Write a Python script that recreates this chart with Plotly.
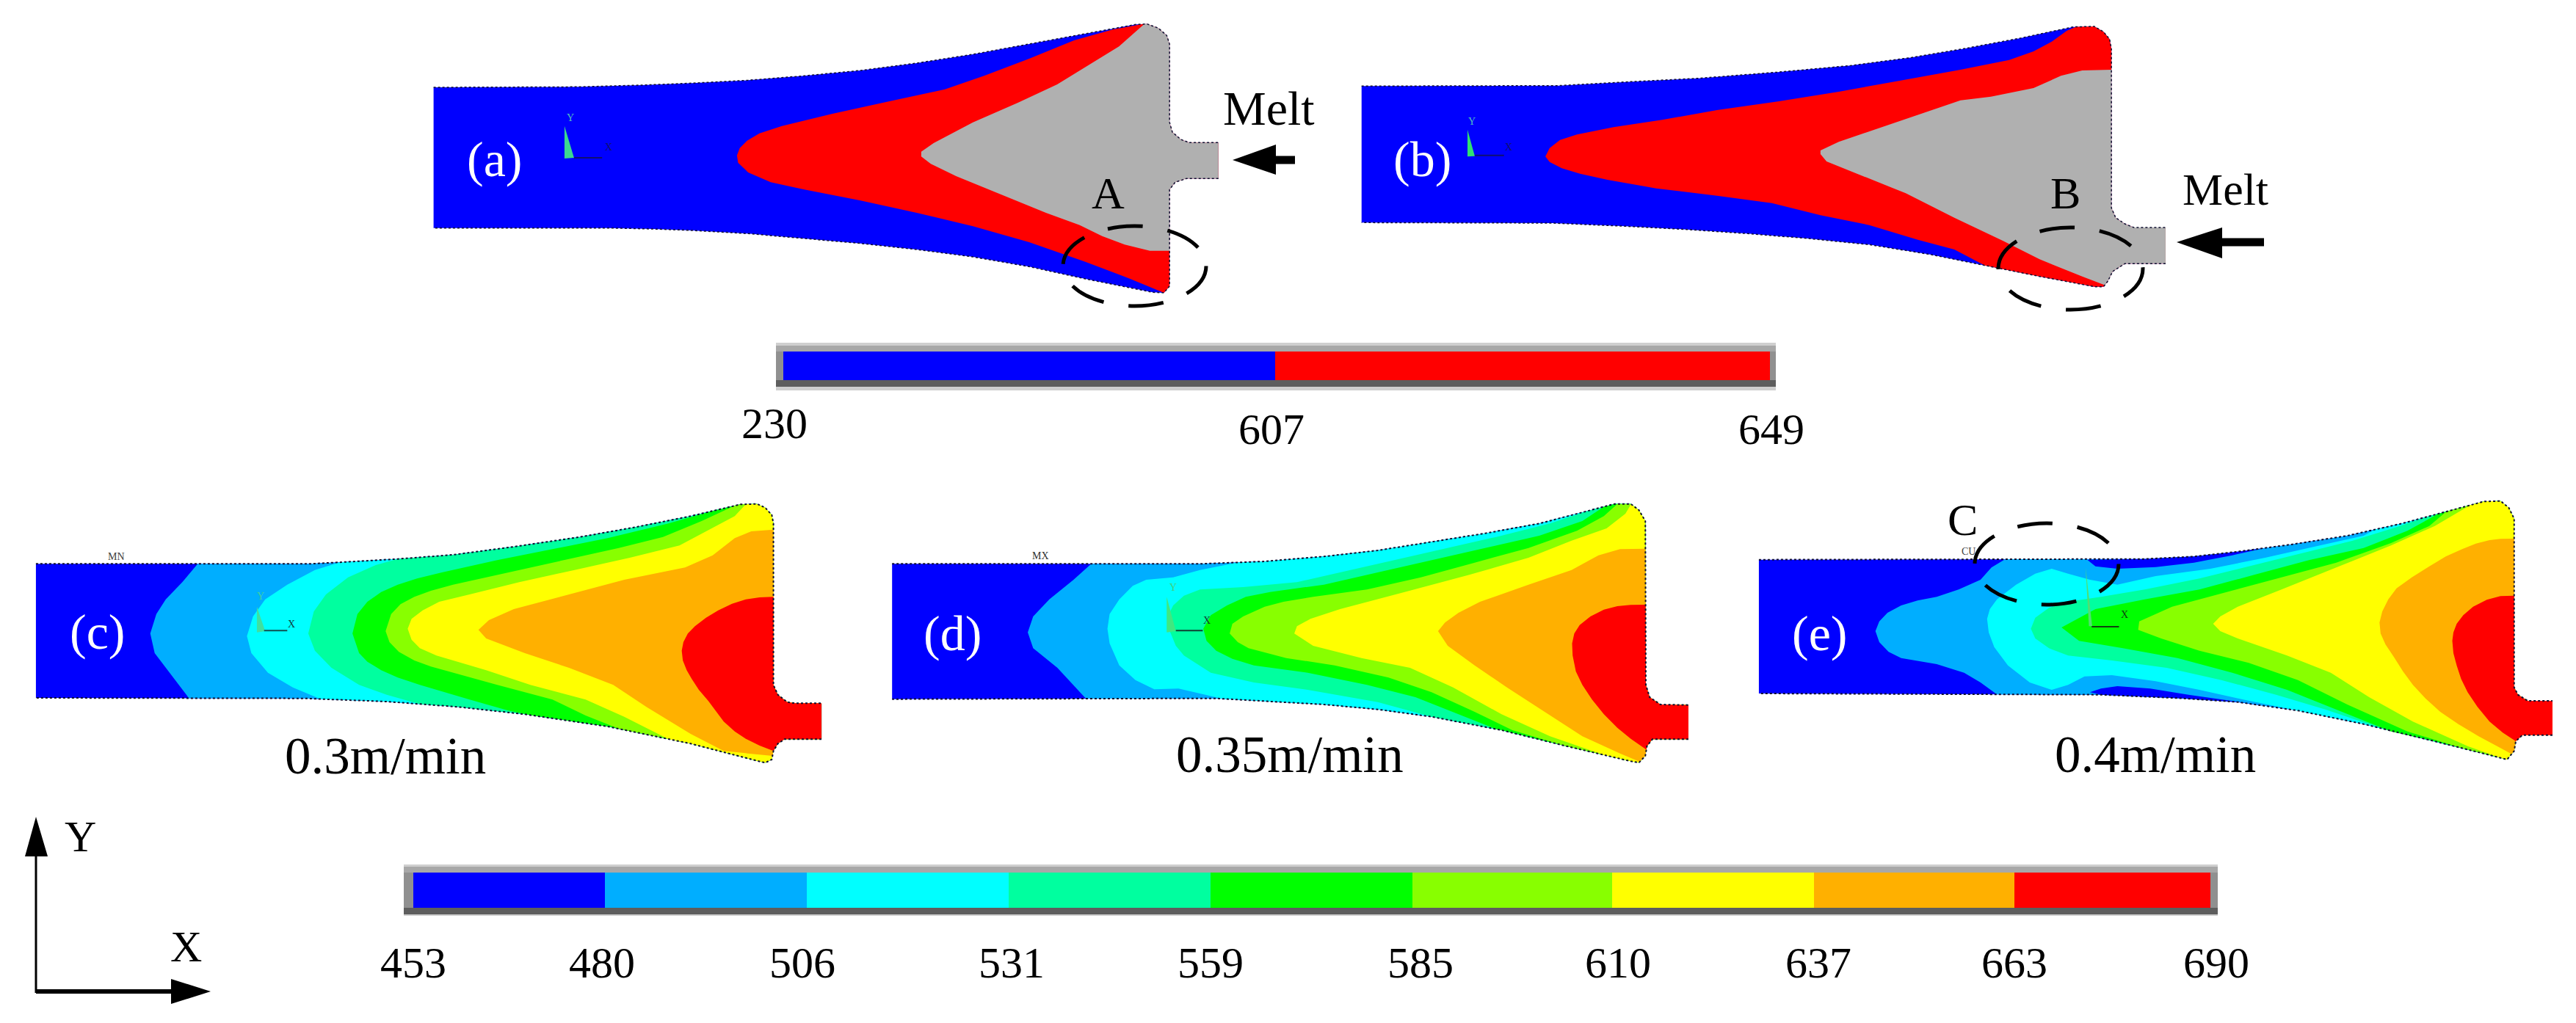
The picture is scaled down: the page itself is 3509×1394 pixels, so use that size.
import plotly.graph_objects as go

W, H = 3509, 1394
FONT = "Liberation Serif"

# Colour levels
LEVEL_LABELS = ["453", "480", "506", "531", "559", "585", "610", "637", "663", "690"]
LEVEL_COLORS = ["#0000FF", "#00AEFF", "#00FFFF", "#00FF9F", "#00FF00", "#88FF00", "#FFFF00", "#FFB000", "#FF0000"]
LEVEL_EDGES = [563, 824, 1099, 1374, 1649, 1924, 2196, 2471, 2744, 3011]
LEVEL_LABEL_X = [563, 820, 1093, 1378, 1649, 1935, 2204, 2477, 2744, 3019]
SOLID_LABELS = ["230", "607", "649"]
SOLID_COLORS = ["#0000FF", "#FF0000"]
SOLID_EDGES = [1067, 1737, 2411]
BLUE, LBLUE, RED, GRAY = "#0000FF", "#00AEFF", "#FF0000", "#B0B0B0"

# Panel frames: x origin, y origin, horizontal scale of the digitising grid (vertical is 3)
FRAME_A = (560, 0, 1568 / 1200)
FRAME_B = (1800, 0, 1568 / 1300)
FRAME_C = (0, 600, 1568 / 1180)
FRAME_D = (1180, 600, 1568 / 1150)
FRAME_E = (2340, 600, 1568 / 1169)

# ---- panel (a)
OUTLINE_A = [(40,357),(300,355),(410,348),(500,340),(600,328),(700,310),(800,288),(900,258),(1000,222),(1100,180),(1200,140),(1290,100),(1310,98),(1330,115),(1345,145),(1350,180),(1350,500),(1355,540),(1370,570),(1385,583),(1437,583),(1437,730),(1380,730),(1360,745),(1350,775),(1350,1170),(1340,1197),(1320,1195),(1200,1140),(1100,1090),(1000,1050),(900,1020),(800,995),(700,975),(600,955),(500,942),(430,936),(350,932),(40,932)]
RED_A = [(1300,98),(1250,120),(1180,165),(1100,240),(1020,310),(950,365),(850,415),(750,465),(660,515),(620,545),(598,575),(585,605),(580,635),(582,665),(600,705),(640,745),(700,775),(800,820),(900,870),(1000,925),(1100,990),(1200,1070),(1280,1140),(1340,1197)]
GRAY_A = [(1305,100),(1260,190),(1210,260),(1150,345),(1080,420),(1000,500),(930,585),(908,620),(908,640),(925,670),(970,720),(1050,795),(1130,870),(1190,920),(1230,965),(1270,1000),(1315,1025),(1350,1025)]
# ---- panel (b)
OUTLINE_B = [(66,352),(390,350),(500,335),(620,320),(750,295),(870,268),(970,235),(1060,197),(1150,155),(1235,110),(1270,108),(1285,130),(1295,160),(1298,200),(1298,850),(1305,890),(1320,915),(1335,930),(1387,930),(1387,1078),(1320,1078),(1300,1110),(1292,1150),(1285,1172),(1270,1172),(1180,1130),(1090,1085),(1000,1040),(900,1000),(800,975),(700,955),(600,938),(500,925),(380,912),(66,910)]
RED_B = [(1240,108),(1225,125),(1200,170),(1170,210),(1130,245),(1050,285),(950,330),(850,375),(750,415),(650,450),(560,490),(480,520),(420,550),(392,572),(375,605),(368,640),(375,662),(395,688),(425,710),(470,735),(550,770),(650,800),(740,830),(820,880),(900,920),(980,980),(1040,1020),(1090,1085)]
GRAY_B = [(1298,285),(1250,288),(1215,310),(1170,360),(1100,395),(1050,410),(990,460),(920,520),(850,580),(820,615),(820,630),(830,660),(880,710),(960,790),(1040,890),(1120,985),(1180,1060),(1250,1130),(1287,1165)]
# ---- panel (c)
OUTLINE_C = [(65,505),(560,505),(620,498),(720,485),(820,468),(930,435),(1050,395),(1150,355),(1250,310),(1340,262),(1370,260),(1385,275),(1397,305),(1400,340),(1400,1000),(1408,1040),(1425,1070),(1440,1075),(1487,1075),(1487,1222),(1420,1222),(1408,1240),(1400,1270),(1397,1305),(1385,1318),(1370,1310),(1250,1240),(1100,1170),(950,1120),(830,1090),(700,1068),(550,1055),(65,1053)]
C_L2 = [(358,505),(330,580),(300,650),(283,710),(272,790),(280,870),(310,960),(342,1053)]
C_L3 = [(615,500),(570,530),(520,590),(480,650),(458,720),(447,800),(455,870),(485,950),(530,1010),(580,1058)]
C_L4 = [(720,485),(680,510),(630,560),(590,630),(568,700),(558,790),(570,860),(600,930),(650,1000),(700,1040),(760,1078)]
C_L5 = [(1290,290),(1210,340),(1100,400),(1000,445),(900,490),(800,540),(755,565),(720,590),(690,620),(665,660),(647,710),(638,790),(650,870),(665,905),(690,940),(720,970),(760,1000),(850,1060),(920,1105),(960,1125)]
C_L6 = [(1330,267),(1270,330),(1200,395),(1120,440),(1020,490),(920,540),(820,590),(780,615),(750,640),(725,670),(708,710),(698,780),(705,825),(722,865),(750,900),(780,925),(820,950),(900,1000),(1000,1060),(1060,1125),(1120,1180)]
C_L7 = [(1350,260),(1330,310),(1280,370),(1230,430),(1140,480),(1040,530),(940,580),(850,630),(795,660),(765,695),(745,730),(738,770),(745,815),(760,850),(790,880),(880,940),(960,1000),(1060,1060),(1130,1130),(1210,1215)]
C_L8 = [(1400,365),(1360,372),(1330,400),(1290,470),(1240,520),(1130,570),(1030,630),(930,690),(885,735),(866,775),(880,810),(950,870),(1030,930),(1110,1000),(1170,1090),(1250,1200),(1310,1270),(1398,1290)]
C_L9 = [(1400,640),(1375,642),(1350,650),(1325,668),(1300,695),(1278,725),(1258,760),(1245,790),(1237,825),(1234,860),(1236,900),(1243,940),(1252,975),(1265,1020),(1282,1065),(1310,1150),(1330,1190),(1350,1220),(1375,1248),(1400,1270)]
# ---- panel (d)
OUTLINE_D = [(48,505),(620,505),(740,495),(850,475),(950,450),(1050,415),(1150,380),(1250,340),(1390,260),(1420,260),(1435,285),(1447,330),(1448,1000),(1455,1050),(1475,1080),(1527,1082),(1527,1222),(1460,1222),(1450,1250),(1447,1290),(1435,1318),(1420,1312),(1300,1250),(1180,1185),(1050,1130),(950,1100),(850,1080),(730,1065),(650,1055),(48,1058)]
D_L2 = [(418,505),(385,570),(340,650),(310,720),(300,785),(310,850),(355,930),(408,1055)]
D_L3 = [(690,500),(620,530),(570,560),(520,570),(495,595),(470,650),(452,710),(448,770),(452,830),(470,920),(500,980),(535,1018),(580,1015),(630,1040),(660,1055)]
D_L4 = [(1340,290),(1270,340),(1170,395),(1080,440),(1000,480),(900,530),(800,580),(700,600),(620,610),(590,635),(570,675),(560,720),(562,770),(575,840),(590,880),(640,950),(720,990),(820,1020),(950,1070),(1050,1130)]
D_L5 = [(1370,272),(1330,330),(1250,390),(1150,440),(1050,490),(950,540),(850,590),(750,620),(705,640),(670,675),(640,715),(626,770),(632,820),(650,860),(680,893),(720,920),(820,950),(930,1000),(1020,1050),(1100,1120),(1170,1170)]
D_L6 = [(1395,262),(1370,310),(1320,370),(1230,440),(1130,500),(1030,560),(930,610),(830,640),(775,660),(740,680),(700,720),(680,750),(675,790),(690,825),(710,850),(780,890),(870,920),(970,970),(1050,1030),(1130,1110),(1200,1185),(1290,1245)]
D_L7 = [(1420,262),(1410,300),(1375,360),(1310,410),(1230,480),(1120,550),(1000,620),(880,690),(825,730),(800,760),(795,790),(830,840),(920,890),(1010,930),(1090,1010),(1180,1120),(1270,1210),(1370,1285)]
D_L8 = [(1447,443),(1400,445),(1360,470),(1310,530),(1230,590),(1140,660),(1100,705),(1075,745),(1062,780),(1080,840),(1130,920),(1190,1010),(1260,1110),(1330,1210),(1400,1280),(1437,1315)]
D_L9 = [(1447,672),(1420,673),(1395,678),(1370,692),(1345,720),(1325,755),(1315,790),(1311,830),(1312,880),(1318,945),(1330,1000),(1348,1060),(1370,1120),(1395,1175),(1420,1220),(1450,1265)]
# ---- panel (e)
OUTLINE_E = [(75,488),(780,485),(870,475),(950,455),(1050,425),(1150,390),(1250,340),(1400,250),(1430,248),(1445,275),(1455,320),(1455,1010),(1462,1040),(1480,1065),(1525,1065),(1525,1205),(1470,1205),(1458,1230),(1455,1270),(1442,1305),(1425,1295),(1300,1225),(1180,1160),(1060,1105),(950,1070),(850,1055),(700,1040),(75,1035)]
E_L2 = [(525,490),(500,520),(480,570),(440,610),(400,640),(365,655),(335,675),(310,705),(295,740),(288,780),(295,825),(312,865),(335,890),(400,915),(450,950),(480,990),(510,1034)]
E_TOP_ISLAND = [(675,488),(780,485),(870,475),(950,455),(1000,440),(940,470),(870,500),(800,518),(730,525),(690,515)]
E_BOTTOM_ISLAND = [(680,1030),(700,1040),(850,1055),(950,1070),(1000,1085),(920,1060),(860,1040),(790,1015),(730,1005),(700,1015)]
E_L3 = [(1200,365),(1180,390),(1100,430),(1000,480),(900,525),(800,555),(730,590),(680,570),(640,545),(610,525),(580,545),(545,590),(510,650),(497,690),(492,730),(495,785),(505,845),(530,920),(570,990),(610,1020),(640,1000),(670,965),(720,960),(800,985),(880,1020),(960,1060),(1060,1105),(1140,1148)]
E_L4 = [(1300,300),(1240,355),(1160,410),(1080,455),(980,510),(880,565),(780,610),(700,640),(640,660),(605,685),(580,725),(572,770),(580,810),(605,850),(640,880),(720,900),(820,930),(920,980),(1020,1040),(1110,1100),(1210,1175)]
E_L5 = [(1315,292),(1260,370),(1180,440),(1080,490),(980,550),(880,610),(780,650),(690,690),(628,765),(660,820),(740,850),(840,890),(940,950),(1040,1020),(1130,1100),(1230,1190),(1300,1225)]
E_L6 = [(1330,282),(1300,350),(1230,420),(1130,500),(1030,560),(930,620),(830,680),(770,740),(768,775),(810,810),(880,860),(970,910),(1060,980),(1150,1080),(1260,1190),(1360,1260)]
E_L7 = [(1375,265),(1310,350),(1230,430),(1130,520),(1030,610),(950,680),(918,720),(905,750),(918,780),(950,810),(1040,880),(1120,950),(1190,1050),(1270,1150),(1370,1250),(1430,1297)]
E_L8 = [(1455,402),(1430,403),(1410,408),(1385,422),(1360,445),(1330,475),(1300,515),(1268,560),(1240,605),(1225,650),(1214,700),(1209,745),(1211,790),(1220,835),(1235,885),(1252,945),(1270,1000),(1293,1055),(1320,1110),(1353,1160),(1390,1210),(1452,1285)]
E_L9 = [(1455,635),(1430,637),(1405,652),(1380,680),(1362,715),(1350,750),(1344,785),(1342,820),(1344,870),(1350,920),(1358,975),(1370,1030),(1388,1090),(1410,1150),(1434,1195),(1458,1230)]

fig = go.Figure()


def to_px(points, frame):
    ox, oy, sx = frame
    return [(ox + x / sx, oy + y / 3) for x, y in points]


def poly(points, color, line=None, width=0, dash=None, closed=True):
    pts = list(points)
    if closed:
        pts = pts + [pts[0]]
    fig.add_trace(go.Scatter(
        x=[p[0] if p else None for p in pts], y=[p[1] if p else None for p in pts], mode="lines",
        fill="toself" if color else "none", fillcolor=color,
        line=dict(color=line or "rgba(0,0,0,0)", width=width, dash=dash),
        hoverinfo="skip", showlegend=False))


def nearest_segment(p, outline):
    best = (1e18, 0, p)
    n = len(outline)
    for k in range(n - 1):
        ax, ay = outline[k]
        bx, by = outline[k + 1]
        dx, dy = bx - ax, by - ay
        t = max(0, min(1, ((p[0] - ax) * dx + (p[1] - ay) * dy) / (dx * dx + dy * dy)))
        q = (ax + t * dx, ay + t * dy)
        d = (q[0] - p[0]) ** 2 + (q[1] - p[1]) ** 2
        if d < best[0]:
            best = (d, k, q)
    return best[1], best[2]


def region(boundary, outline, color):
    k, s = nearest_segment(boundary[0], outline)
    m, e = nearest_segment(boundary[-1], outline)
    pts = [s] + outline[k + 1:m + 1] + [e] + boundary[-2:0:-1]
    poly(pts, color)


def panel(outline, frame, layers, edge_dash="dot", edge_width=1.5):
    o = to_px(outline, frame)
    poly(o, layers[0])
    for item in layers[1:]:
        if item[0] == "island":
            poly(to_px(item[1], frame), item[2])
        else:
            region(to_px(item[0], frame), o, item[1])
    # edge stroke: open at the left end and at the runner's end
    xmax = max(p[0] for p in o)
    edge = []
    for a, b in zip(o[:-1], o[1:]):
        edge.append(a)
        if a[0] == xmax and b[0] == xmax:
            edge.append(None)
    edge.append(o[-1])
    poly(edge, None, line="#101030", width=edge_width, dash=edge_dash, closed=False)


panel(OUTLINE_A, FRAME_A, [BLUE, (RED_A, RED), (GRAY_A, GRAY)])
panel(OUTLINE_B, FRAME_B, [BLUE, (RED_B, RED), (GRAY_B, GRAY)])
L = LEVEL_COLORS
panel(OUTLINE_C, FRAME_C, [L[0], (C_L2, L[1]), (C_L3, L[2]), (C_L4, L[3]), (C_L5, L[4]), (C_L6, L[5]), (C_L7, L[6]), (C_L8, L[7]), (C_L9, L[8])], "dot", 2)
panel(OUTLINE_D, FRAME_D, [L[0], (D_L2, L[1]), (D_L3, L[2]), (D_L4, L[3]), (D_L5, L[4]), (D_L6, L[5]), (D_L7, L[6]), (D_L8, L[7]), (D_L9, L[8])], "dot", 2)
panel(OUTLINE_E, FRAME_E, [L[0], (E_L2, L[1]), ("island", E_TOP_ISLAND, L[0]), ("island", E_BOTTOM_ISLAND, L[0]), (E_L3, L[2]), (E_L4, L[3]), (E_L5, L[4]), (E_L6, L[5]), (E_L7, L[6]), (E_L8, L[7]), (E_L9, L[8])], "dot", 2)


def rect(x0, y0, x1, y1, color):
    poly([(x0, y0), (x1, y0), (x1, y1), (x0, y1)], color)


def colorbar(edges, colors, fx0, fx1, y0, y1, top, bottom):
    rect(fx0, y0, fx1, y1, "#CFCFCF")
    rect(fx0, top - 8, fx1, top, "#A8A8A8")
    rect(fx0, bottom, fx1, bottom + 9, "#5E5E5E")
    rect(fx0, top, edges[0], bottom, "#909090")
    rect(edges[-1], top, fx1, bottom, "#909090")
    for a, b, c in zip(edges[:-1], edges[1:], colors):
        rect(a, top, b, bottom, c)


colorbar(LEVEL_EDGES, LEVEL_COLORS, 550, 3021, 1178, 1248, 1189, 1237)
colorbar(SOLID_EDGES, SOLID_COLORS, 1057, 2419, 467, 532, 479, 518)

# Axis arrows and melt arrows
ARROW_Y_STEM = [(49, 1160), (49, 1353)]
ARROW_Y_HEAD = [(49, 1113), (65, 1167), (34, 1167)]
ARROW_X_STEM = [(49, 1351), (236, 1351)]
ARROW_X_HEAD = [(287, 1351), (233, 1334), (233, 1368)]
MELT_A_STEM = [(1735, 218), (1764, 218)]
MELT_A_HEAD = [(1679, 218), (1738, 197), (1738, 238)]
MELT_B_STEM = [(3025, 330), (3084, 330)]
MELT_B_HEAD = [(2965, 330), (3027, 310), (3027, 352)]
poly(ARROW_Y_STEM, None, line="black", width=3, closed=False)
poly(ARROW_Y_HEAD, "black")
poly(ARROW_X_STEM, None, line="black", width=6, closed=False)
poly(ARROW_X_HEAD, "black")
poly(MELT_A_STEM, None, line="black", width=11, closed=False)
poly(MELT_A_HEAD, "black")
poly(MELT_B_STEM, None, line="black", width=11, closed=False)
poly(MELT_B_HEAD, "black")

# Small triad glyphs in the solver views
TRIADS = [
    (FRAME_A, [(273,515),(290,645),(273,648)], "#3CD890", [(290,645),(340,645)], "#101070"),
    (FRAME_B, [(240,530),(252,638),(240,640)], "#30E070", [(252,635),(300,635)], "#101070"),
    (FRAME_C, [(465,680),(480,780),(465,785)], "#40E0A0", [(478,778),(520,778)], "#105050"),
    (FRAME_D, [(558,640),(575,780),(558,785)], "#40E880", [(575,778),(625,778)], "#104030"),
    (FRAME_E, [(672,520),(684,760),(678,760)], "#50E070", [(683,762),(733,762)], "#104010"),
]
for frame, tri, tc, ln, lc in TRIADS:
    poly(to_px(tri, frame), tc)
    poly(to_px(ln, frame), None, line=lc, width=2, closed=False)

# Dashed ellipses
ELLIPSES = [(1448, 308, 1643, 417), (2722, 310, 2919, 422), (2690, 713, 2886, 824)]
shapes = [dict(type="circle", xref="x", yref="y", x0=a, y0=b, x1=c, y1=d,
               line=dict(color="black", width=5, dash="48px,34px")) for a, b, c, d in ELLIPSES]

# Text
PANEL_TAGS = [("(a)", 673, 217), ("(b)", 1937, 217), ("(c)", 132, 861), ("(d)", 1297, 863), ("(e)", 2478, 863)]
SPEEDS = [("0.3m/min", 525, 1030), ("0.35m/min", 1757, 1028), ("0.4m/min", 2936, 1028)]
DARK_TEXT = [("Melt", 1728, 147, 66), ("Melt", 3031, 258, 62), ("A", 1509, 263, 62), ("B", 2813, 263, 62),
             ("C", 2673, 708, 62), ("Y", 109, 1140, 60), ("X", 253, 1290, 60)]
TINY_TEXT = [("Y", 777, 160, "#50C0C0"), ("X", 829, 200, "#101070"), ("Y", 2005, 165, "#50C0C0"), ("X", 2055, 200, "#101070"),
             ("Y", 355, 812, "#40D0A0"), ("X", 397, 850, "#104040"), ("MN", 158, 758, "#404040"),
             ("Y", 1598, 800, "#40D080"), ("X", 1644, 845, "#104030"), ("MX", 1417, 757, "#303030"),
             ("X", 2894, 837, "#104010"), ("CU", 2681, 751, "#404040")]

ann = []


def text(t, x, y, size, color):
    ann.append(dict(text=t, x=x, y=y, xref="x", yref="y", showarrow=False, xanchor="center", yanchor="middle",
                    font=dict(family=FONT, size=size, color=color)))


for t, x, y in PANEL_TAGS:
    text(t, x, y, 68, "white")
for t, x, y in SPEEDS:
    text(t, x, y, 71, "black")
for t, x, y, s in DARK_TEXT:
    text(t, x, y, s, "black")
for t, x, y, c in TINY_TEXT:
    text(t, x, y, 14, c)
for t, x in zip(LEVEL_LABELS, LEVEL_LABEL_X):
    text(t, x, 1312, 60, "black")
for t, x, y in zip(SOLID_LABELS, [1055, 1732, 2413], [577, 585, 585]):
    text(t, x, y, 60, "black")

fig.update_layout(
    width=W, height=H, margin=dict(l=0, r=0, t=0, b=0), autosize=False,
    paper_bgcolor="white", plot_bgcolor="white", showlegend=False,
    xaxis=dict(range=[0, W], visible=False, fixedrange=True),
    yaxis=dict(range=[H, 0], visible=False, fixedrange=True),
    shapes=shapes, annotations=ann,
)
fig.write_html("out.html", config=dict(displayModeBar=False),
               post_script="document.body.style.margin='0';document.body.style.overflow='hidden';")
